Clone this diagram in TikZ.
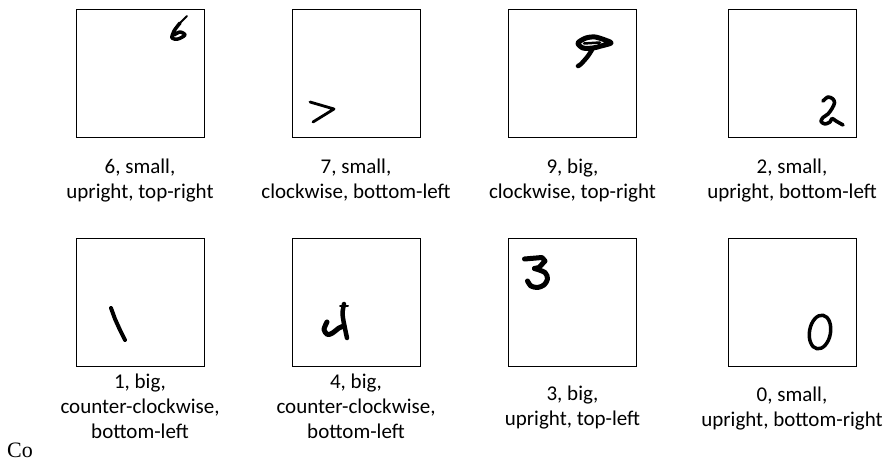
\documentclass[tikz,border=0pt]{standalone}
\usepackage{fontspec}
\setmainfont{Carlito}
\newfontfamily\timesfont{Liberation Serif}
\begin{document}
\begin{tikzpicture}[x=1pt,y=-1pt,
  panel/.style={draw=black, line width=0.9pt, minimum size=128pt, inner sep=0pt},
  ink/.style={line width=#1, line cap=round, line join=round, draw=black},
  ink/.default=3pt,
  lbl/.style={anchor=base, inner sep=0pt, font=\fontsize{21}{25}\selectfont}]
\useasboundingbox (0,0) rectangle (886,462);
% panels
\node[panel] (p1) at (140,73) {};
\node[panel] (p2) at (356,73) {};
\node[panel] (p3) at (572.5,73) {};
\node[panel] (p4) at (792,73) {};
\node[panel] (p5) at (140,302) {};
\node[panel] (p6) at (356,302) {};
\node[panel] (p7) at (572.5,302) {};
\node[panel] (p8) at (792,302) {};
% digit 6
\draw[ink=1.8pt] (187,16) -- (180,23);
\draw[ink=3.5pt] plot[smooth] coordinates {(180,23)(174,31)(172,38)(178,39)(185,35)(180,32)(174,35)};
% digit 7 (rotated)
\draw[ink=2.8pt] (310,102) -- (334,109) -- (313,122);
% digit 9
\draw[ink=5pt] plot[smooth cycle] coordinates {(578,43)(586,38)(595,37)(605,40)(611,43)(601,46)(593,48)(583,48)};
\draw[ink=2.5pt] (584,43.5) -- (600,42.5);
\draw[ink=4.5pt] plot[smooth] coordinates {(593,48)(588,56)(581,64)(578,66)};
% digit 2
\draw[ink=3.6pt] plot[smooth] coordinates {(823,101)(828,97)(833,99)(834.5,103)(832,108.5)(828,114)(823,117.5)(821,121.5)(825,124)(830,122)(832,118.5)(836,121)(843,125)};
% digit 1
\draw[ink=4pt] (111,308) -- (115,319) -- (120,330) -- (125,340);
% digit 4
\draw[ink=4.5pt] plot[smooth] coordinates {(344,304)(342.5,313)(343.5,321)(345.5,331)(347,338)};
\draw[ink=5pt] plot[smooth] coordinates {(327,322)(324,329.5)(327.5,334.5)(332.5,333)(339,328)(344,326)};
\draw[ink=2pt] (340,306) -- (348,306);
% digit 3
\draw[ink=5pt] (524.5,259) -- (542,257.5) -- (545,261) -- (539,267.5) -- (534.5,268.5);
\draw[ink=5pt] plot[smooth] coordinates {(534.5,268.5)(545,272.5)(547.5,279)(544,285)(537.5,287.5)(531,286)(527.5,281)};
% digit 0
\draw[ink=3.5pt, shift={(820,332)}, rotate=-10] (0,0) ellipse (10.5 and 17);
% labels
\node[lbl] (l1a) at (140,174) {6, small,};
\node[lbl] (l1b) at (140,199) {upright, top-right};
\node[lbl] (l2a) at (356,174) {7, small,};
\node[lbl] (l2b) at (356,199) {clockwise, bottom-left};
\node[lbl] (l3a) at (572.5,174) {9, big,};
\node[lbl] (l3b) at (572.5,199) {clockwise, top-right};
\node[lbl] (l4a) at (792,174) {2, small,};
\node[lbl] (l4b) at (792,199) {upright, bottom-left};
\node[lbl] (l5a) at (140,388) {1, big,};
\node[lbl] (l5b) at (140,413) {counter-clockwise,};
\node[lbl] (l5c) at (140,438) {bottom-left};
\node[lbl] (l6a) at (356,388) {4, big,};
\node[lbl] (l6b) at (356,413) {counter-clockwise,};
\node[lbl] (l6c) at (356,438) {bottom-left};
\node[lbl] (l7a) at (572.5,400) {3, big,};
\node[lbl] (l7b) at (572.5,425) {upright, top-left};
\node[lbl] (l8a) at (792,401) {0, small,};
\node[lbl] (l8b) at (792,426) {upright, bottom-right};
\node[anchor=base west, inner sep=0pt, font=\timesfont\fontsize{22}{26}\selectfont] (co) at (7,457) {Co};
\end{tikzpicture}
\end{document}
